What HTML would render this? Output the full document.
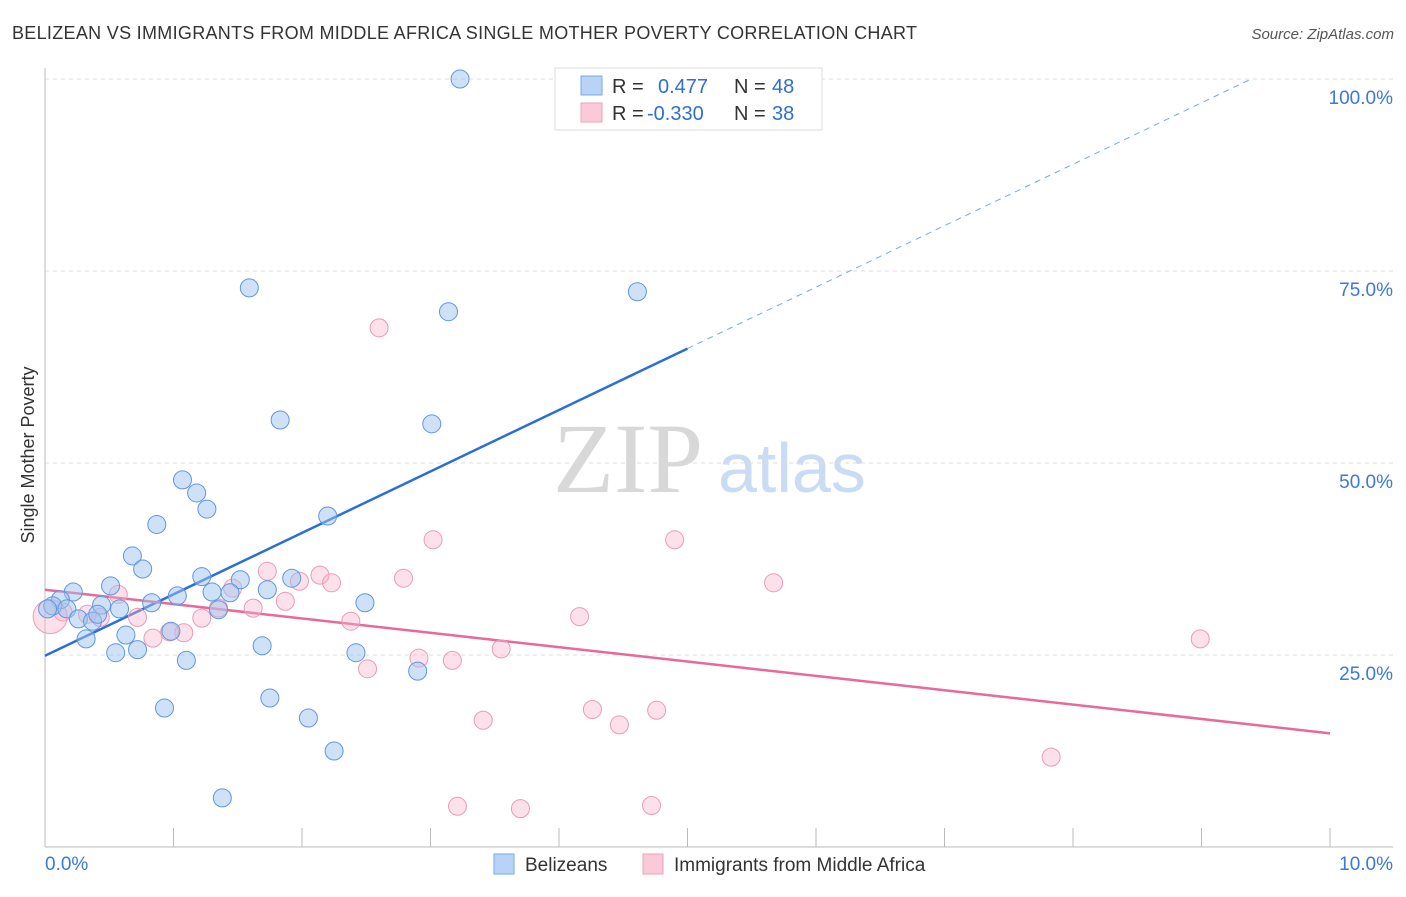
<!DOCTYPE html>
<html><head><meta charset="utf-8"><style>
body{margin:0;background:#fff;font-family:"Liberation Sans",sans-serif}
</style></head><body>
<svg id="chart" width="1406" height="892" xmlns="http://www.w3.org/2000/svg" font-family="Liberation Sans, sans-serif">
<text x="12" y="39" font-size="18" fill="#333" textLength="905">BELIZEAN VS IMMIGRANTS FROM MIDDLE AFRICA SINGLE MOTHER POVERTY CORRELATION CHART</text>
<text x="1394" y="39" font-size="15" fill="#555" font-style="italic" text-anchor="end">Source: ZipAtlas.com</text>
<text x="34" y="455" font-size="18" fill="#333" text-anchor="middle" transform="rotate(-90 34 455)">Single Mother Poverty</text>
<text x="553" y="492" font-size="100" fill="#d8d8d8" style="font-family:'Liberation Serif',serif">ZIP</text>
<text x="718" y="492" font-size="70" fill="#c9dcf3">atlas</text>
<g id="grid"></g><g id="trends"></g><g id="pts"></g>
<g>
<rect x="555" y="68" width="267" height="62" fill="#fff" stroke="#ddd"/>
<rect x="581" y="76" width="21" height="19" fill="#b8d3f5" stroke="#7aaae6"/>
<text x="612" y="93" font-size="20" fill="#333">R =</text><text x="658" y="93" font-size="20" fill="#2f6fd0">0.477</text>
<text x="734" y="93" font-size="20" fill="#333">N =</text><text x="772" y="93" font-size="20" fill="#2f6fd0">48</text>
<rect x="581" y="103" width="21" height="19" fill="#fbcad8" stroke="#eea0bb"/>
<text x="612" y="120" font-size="20" fill="#333">R =</text><text x="647" y="120" font-size="20" fill="#2f6fd0">-0.330</text>
<text x="734" y="120" font-size="20" fill="#333">N =</text><text x="772" y="120" font-size="20" fill="#2f6fd0">38</text>
</g>
<g>
<rect x="494" y="854" width="20" height="20" fill="#b8d3f5" stroke="#7aaae6"/>
<text x="525" y="871" font-size="19" fill="#333">Belizeans</text>
<rect x="643" y="854" width="20" height="20" fill="#fbcad8" stroke="#eea0bb"/>
<text x="674" y="871" font-size="19" fill="#333">Immigrants from Middle Africa</text>
</g>
</svg>
<script>
const yTicks=[100,75,50,25];
const yTickLabels=["100.0%","75.0%","50.0%","25.0%"];
const xTickLabels=["0.0%","10.0%"];
const blueX=[3.23,1.59,4.61,3.14,1.83,3.01,1.07,1.18,1.26,0.87,2.2,0.68,0.76,1.22,1.52,1.92,1.03,1.3,1.44,1.73,0.83,0.51,0.22,0.12,0.06,0.17,0.44,0.58,0.26,0.37,0.41,2.49,0.63,0.32,0.98,1.35,0.55,0.72,1.1,1.69,2.42,2.9,0.93,1.75,2.05,2.25,1.38,0.02];
const blueY=[100,72.8,72.3,69.7,55.6,55.1,47.8,46.1,44,42,43.1,37.9,36.2,35.2,34.8,35,32.7,33.2,33.1,33.5,31.8,34,33.2,32.2,31.4,31,31.5,31,29.7,29.4,30.3,31.8,27.6,27.1,28.1,30.9,25.3,25.7,24.3,26.2,25.3,22.9,18.1,19.4,16.8,12.5,6.4,31];
const pinkX=[2.6,3.02,4.9,5.67,8.99,7.83,2.79,2.14,2.23,1.98,1.73,1.46,1.87,1.62,1.35,1.22,1.08,0.97,0.84,0.72,0.57,0.43,0.33,0.14,0.04,2.38,4.16,3.55,2.91,3.17,2.51,3.41,4.26,4.76,4.47,3.21,3.7,4.72];
const pinkY=[67.6,40,40,34.4,27.1,11.7,35,35.4,34.4,34.6,35.9,33.7,32,31.1,31.1,29.8,27.9,28.0,27.2,29.9,32.9,29.9,30.3,30.6,30,29.4,30,25.8,24.6,24.3,23.2,16.5,17.9,17.8,15.9,5.3,5,5.4];
const blueTrend=[24.9,104.9];
const pinkTrend=[33.5,14.8];
const blueSolidEnd=5.0;
const NS="http://www.w3.org/2000/svg";
const X=v=>45+v/10*1285, Y=v=>847-v/100*768;
function mk(t,a,p){const e=document.createElementNS(NS,t);for(const k in a)e.setAttribute(k,a[k]);p.appendChild(e);return e;}
const grid=document.getElementById('grid');
yTicks.forEach((t,i)=>{
 const l=mk('line',{x1:45,x2:1393,y1:Y(t),y2:Y(t),stroke:'#ddd','stroke-dasharray':'4 4'},grid);
 
 
 const tx=mk('text',{x:1393,y:Y(t)+25,'font-size':19,fill:'#3b78d8','text-anchor':'end'},grid);
 tx.textContent=yTickLabels[i];
 
 
});
mk('line',{x1:45,x2:45,y1:68,y2:847,stroke:'#bbb'},grid);
mk('line',{x1:45,x2:1393,y1:847,y2:847,stroke:'#bbb'},grid);
for(let i=1;i<=10;i++){mk('line',{x1:X(i),x2:X(i),y1:828,y2:847,stroke:'#bbb'},grid);}
[[0,45,'start'],[10,1393,'end']].forEach((d,i)=>{
 const tx=mk('text',{x:d[1],y:870,'font-size':19,fill:'#3b78d8','text-anchor':d[2]},grid);
 tx.textContent=xTickLabels[i];
 
 
});
const tr=document.getElementById('trends');
const by=x=>blueTrend[0]+(blueTrend[1]-blueTrend[0])*x/10;
const bl=mk('line',{x1:X(0),y1:Y(by(0)),x2:X(blueSolidEnd),y2:Y(by(blueSolidEnd)),stroke:'#2a6fd6','stroke-width':2.5},tr);


const xe=(100-blueTrend[0])/(blueTrend[1]-blueTrend[0])*10;
const bd=mk('line',{x1:X(blueSolidEnd),y1:Y(by(blueSolidEnd)),x2:X(xe),y2:Y(100),stroke:'#7aa7e6','stroke-width':1,'stroke-dasharray':'6 5'},tr);


const pl=mk('line',{x1:X(0),y1:Y(pinkTrend[0]),x2:X(10),y2:Y(pinkTrend[1]),stroke:'#e8699a','stroke-width':2.5},tr);


const pts=document.getElementById('pts');
pinkX.forEach((x,i)=>{
 const c=mk('circle',{cx:X(x),cy:Y(pinkY[i]),r:i==24?17:9,fill:'rgba(248,180,202,0.4)',stroke:'#eb9ab8','stroke-width':1},pts);
 
 
});
blueX.forEach((x,i)=>{
 const c=mk('circle',{cx:X(x),cy:Y(blueY[i]),r:9,fill:'rgba(160,196,240,0.5)',stroke:'#5f97e0','stroke-width':1},pts);
 
 
});
</script>
</body></html>
